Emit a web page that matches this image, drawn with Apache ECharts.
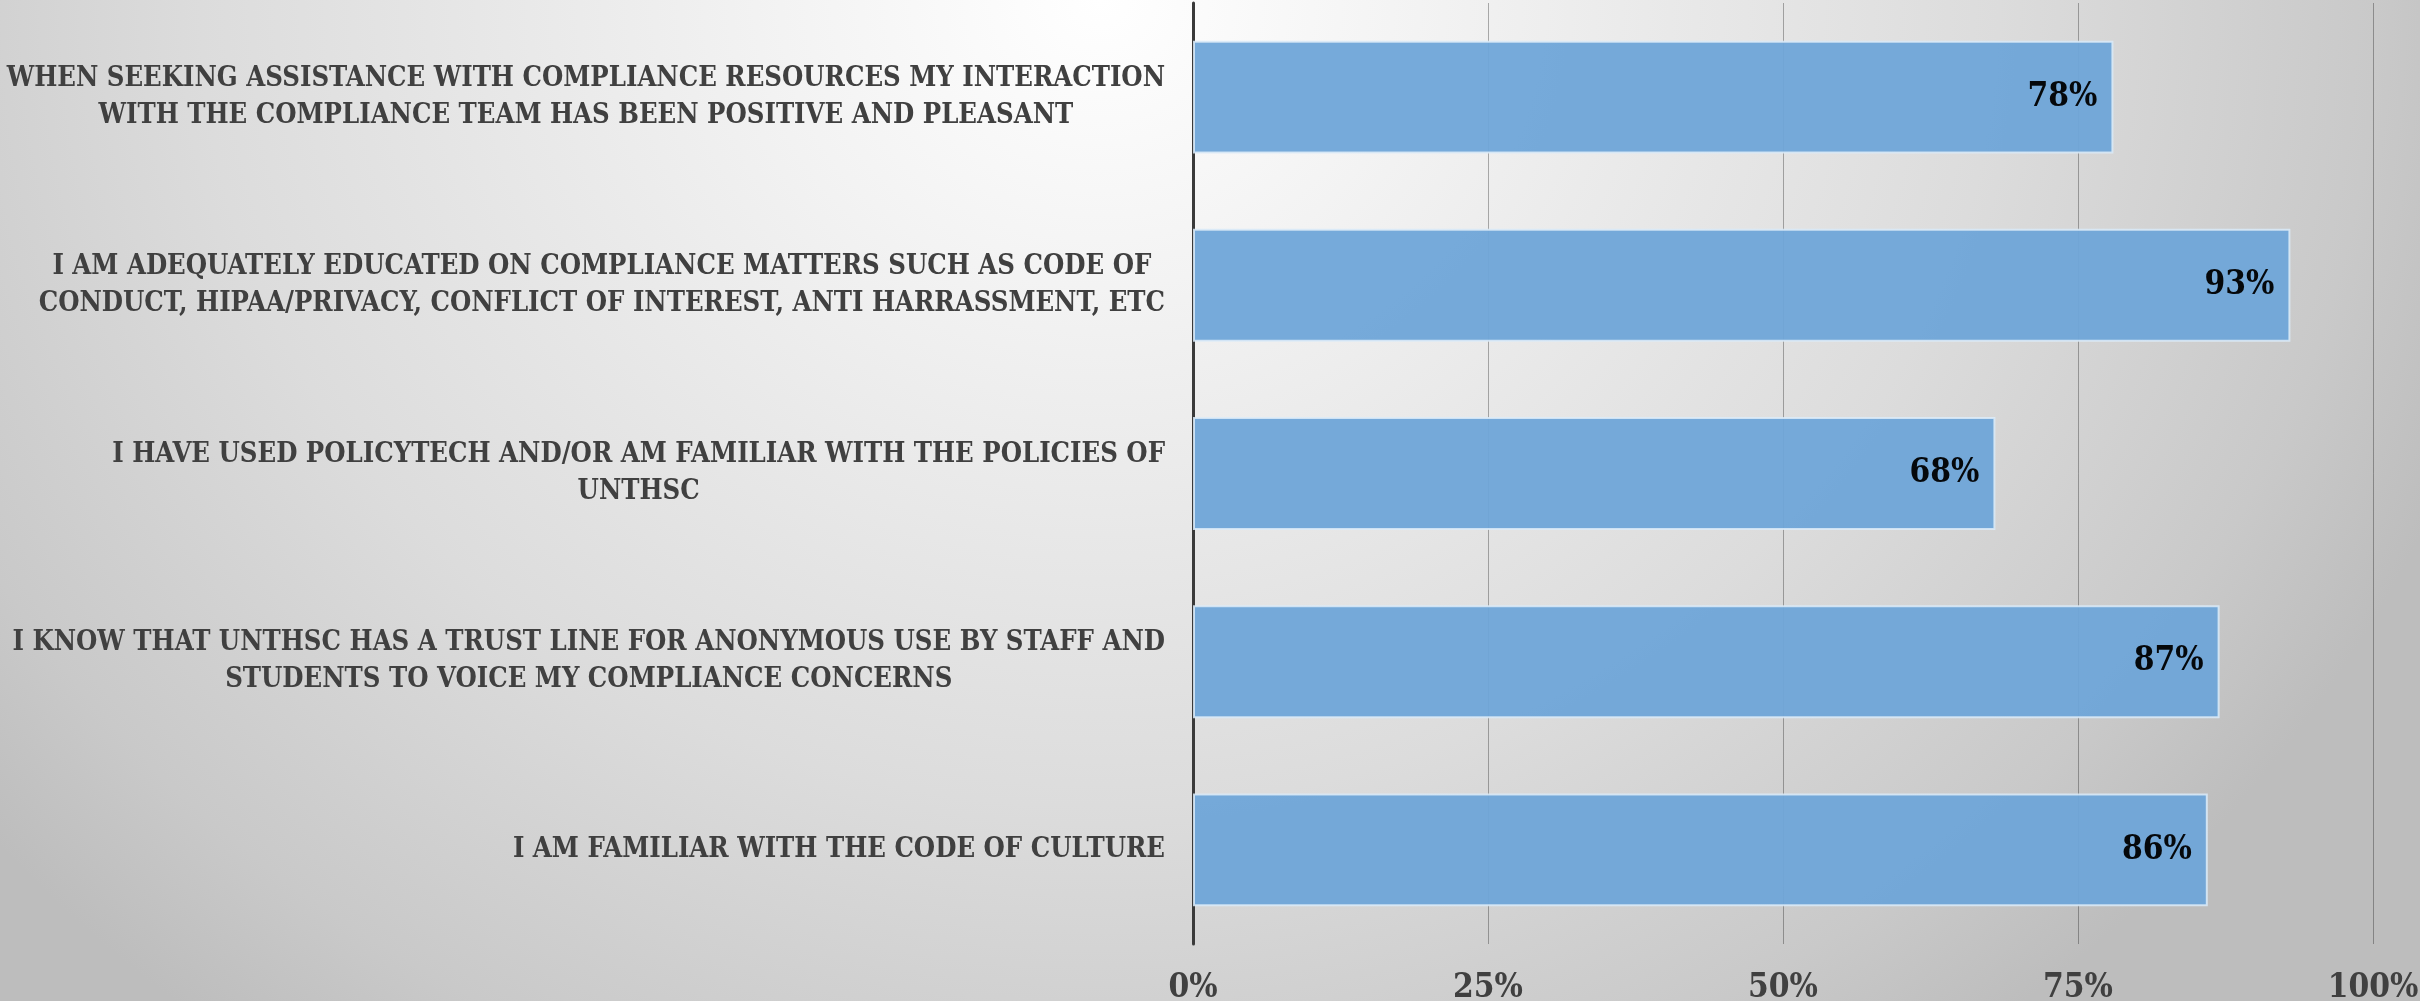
<!DOCTYPE html>
<html>
<head>
<meta charset="utf-8">
<script src="https://cdn.jsdelivr.net/npm/echarts@6/dist/echarts.min.js"></script>
<style>
  html, body { margin: 0; padding: 0; }
  #chart {
    width: 2420px; height: 1001px;
    background: radial-gradient(ellipse 1450px 1300px at 1100px 0px, #ffffff 0%, #f3f3f3 22%, #dcdcdc 62%, #c9c9c9 88%, #bdbdbd 100%);
  }
</style>
</head>
<body>
<div id="chart"></div>
<script>
// Categories, top to bottom (line breaks as in the reference)
const categories = [
  "WHEN SEEKING ASSISTANCE WITH COMPLIANCE RESOURCES MY INTERACTION\nWITH THE COMPLIANCE TEAM HAS BEEN POSITIVE AND PLEASANT",
  "I AM ADEQUATELY EDUCATED ON COMPLIANCE MATTERS SUCH AS CODE OF\nCONDUCT, HIPAA/PRIVACY, CONFLICT OF INTEREST, ANTI HARRASSMENT, ETC",
  "I HAVE USED POLICYTECH AND/OR AM FAMILIAR WITH THE POLICIES OF\nUNTHSC",
  "I KNOW THAT UNTHSC HAS A TRUST LINE FOR ANONYMOUS USE BY STAFF AND\nSTUDENTS TO VOICE MY COMPLIANCE CONCERNS",
  "I AM FAMILIAR WITH THE CODE OF CULTURE"
];
const values = [78, 93, 68, 87, 86];
const xTicks = [0, 25, 50, 75, 100];

const FONT = '"DejaVu Serif Condensed", "Liberation Serif", serif';

// fit the category font so the longest first line spans the label column
const ctx = document.createElement('canvas').getContext('2d');
ctx.font = 'bold 100px ' + FONT;
const refW = ctx.measureText(categories[0].split('\n')[0]).width;
const catSize = Math.min(34, Math.max(22, Math.round(100 * 1160 / refW * 10) / 10));

const chart = echarts.init(document.getElementById('chart'), null, { renderer: 'canvas' });

chart.setOption({
  backgroundColor: 'transparent',
  animation: false,
  grid: { left: 1193, right: 47, top: 3, bottom: 57, containLabel: false, outerBoundsMode: 'none' },
  xAxis: {
    type: 'value',
    min: xTicks[0],
    max: xTicks[xTicks.length - 1],
    interval: xTicks[1] - xTicks[0],
    axisLine: { show: false },
    axisTick: { show: false },
    splitLine: { show: true, lineStyle: { color: 'rgba(0,0,0,0.3)', width: 1 } },
    axisLabel: {
      formatter: v => v + '%',
      fontFamily: FONT, fontWeight: 'bold', fontSize: catSize + 6, color: '#404040',
      margin: 28
    }
  },
  yAxis: {
    type: 'category',
    inverse: true,
    data: categories,
    axisLine: { show: true, lineStyle: { color: '#3a3a3a', width: 3 } },
    axisTick: { show: false },
    splitLine: { show: false },
    axisLabel: {
      margin: 28,
      align: 'right',
      formatter: v => v.split('\n').map(l => '{c|' + l + '}').join('\n'),
      rich: {
        c: {
          align: 'center',
          fontFamily: FONT, fontWeight: 'bold', fontSize: catSize, color: '#404040',
          lineHeight: 37
        }
      }
    }
  },
  series: [{
    type: 'bar',
    data: values,
    barCategoryGap: '40%',
    itemStyle: {
      color: '#6fa5d8',
      opacity: 0.95,
      borderColor: 'rgba(220,235,248,0.9)',
      borderWidth: 2
    },
    label: {
      show: true,
      position: 'insideRight',
      distance: 16,
      formatter: p => p.value + '%',
      fontFamily: FONT, fontWeight: 'bold', fontSize: catSize + 6, color: '#000000'
    }
  }]
});
</script>
</body>
</html>
